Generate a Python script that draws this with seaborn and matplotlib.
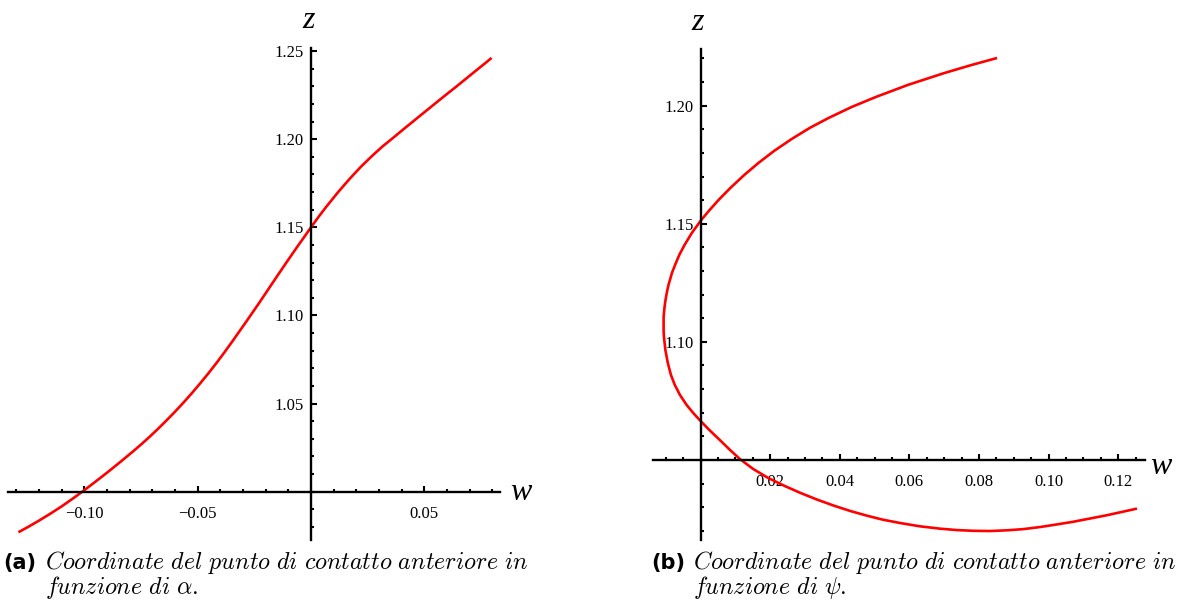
import matplotlib
matplotlib.use("Agg")
import matplotlib.pyplot as plt
from matplotlib.ticker import FixedLocator, MultipleLocator
import pandas as pd
import seaborn as sns

# Front contact point (w, z) as the steering angle alpha varies
w_alpha = [-0.1291, -0.1243, -0.1195, -0.1148, -0.1100, -0.1052, -0.1004, -0.0953,
           -0.0901, -0.0843, -0.0784, -0.0747, -0.0710, -0.0674, -0.0637, -0.0600,
           -0.0563, -0.0527, -0.0490, -0.0453, -0.0416, -0.0380, -0.0343, -0.0284,
           -0.0225, -0.0188, -0.0151, -0.0107, -0.0063, -0.0031, 0.0000, 0.0035,
           0.0069, 0.0120, 0.0172, 0.0220, 0.0268, 0.0315, 0.0363, 0.0407,
           0.0451, 0.0495, 0.0540, 0.0592, 0.0643, 0.0687, 0.0731, 0.0764, 0.0797]
z_alpha = [0.9770, 0.9804, 0.9840, 0.9877, 0.9917, 0.9960, 1.0005, 1.0055,
           1.0107, 1.0167, 1.0230, 1.0271, 1.0314, 1.0358, 1.0405, 1.0454,
           1.0505, 1.0557, 1.0613, 1.0671, 1.0732, 1.0794, 1.0860, 1.0968,
           1.1078, 1.1149, 1.1220, 1.1303, 1.1385, 1.1443, 1.1500, 1.1562,
           1.1619, 1.1700, 1.1777, 1.1843, 1.1903, 1.1958, 1.2008, 1.2055,
           1.2101, 1.2147, 1.2194, 1.2248, 1.2300, 1.2346, 1.2392, 1.2426, 1.2461]

# Front contact point (w, z) as psi varies
w_psi = [0.0852, 0.0778, 0.0700, 0.0596, 0.0504, 0.0435, 0.0368, 0.0314, 0.0262, 0.0211,
         0.0166, 0.0126, 0.0086, 0.0052, 0.0026, 0.0002, -0.0025, -0.0046, -0.0061, -0.0073,
         -0.0082, -0.0092, -0.0097, -0.0101, -0.0104, -0.0106, -0.0106, -0.0106, -0.0105, -0.0101,
         -0.0094, -0.0085, -0.0074, -0.0059, -0.0040, -0.0021, 0.0000, 0.0028, 0.0055, 0.0085,
         0.0113, 0.0151, 0.0194, 0.0243, 0.0286, 0.0335, 0.0382, 0.0430, 0.0478, 0.0524,
         0.0573, 0.0630, 0.0688, 0.0737, 0.0783, 0.0832, 0.0880, 0.0927, 0.0976, 0.1024,
         0.1070, 0.1119, 0.1168, 0.1211, 0.1254]
z_psi = [1.2202, 1.2172, 1.2138, 1.2088, 1.2037, 1.1995, 1.1948, 1.1906, 1.1859, 1.1808,
         1.1757, 1.1707, 1.1652, 1.1601, 1.1558, 1.1516, 1.1461, 1.1410, 1.1368, 1.1326,
         1.1292, 1.1241, 1.1207, 1.1173, 1.1139, 1.1105, 1.1072, 1.1046, 1.1021, 1.0966,
         1.0911, 1.0860, 1.0818, 1.0775, 1.0733, 1.0699, 1.0665, 1.0623, 1.0585, 1.0542,
         1.0504, 1.0462, 1.0424, 1.0389, 1.0361, 1.0332, 1.0307, 1.0284, 1.0264, 1.0247,
         1.0233, 1.0219, 1.0209, 1.0203, 1.0200, 1.0199, 1.0202, 1.0207, 1.0216, 1.0227,
         1.0238, 1.0252, 1.0266, 1.0280, 1.0294]

xticks_alpha = [-0.10, -0.05, 0.05]
yticks_alpha = [1.05, 1.10, 1.15, 1.20, 1.25]
xticks_psi = [0.02, 0.04, 0.06, 0.08, 0.10, 0.12]
yticks_psi = [1.10, 1.15, 1.20]

caption_tags = ["(a)", "(b)"]
caption_line1 = "Coordinate del punto di contatto anteriore in"
caption_vars = [r"\alpha", r"\psi"]

W, H, DPI = 1183, 608, 100
fig = plt.figure(figsize=(W / DPI, H / DPI), dpi=DPI)
fig.patch.set_facecolor("white")

SERIF = "Liberation Serif"


def px(x0, y0, x1, y1):
    """Axes rectangle from pixel corners (top-left origin)."""
    return [x0 / W, 1 - y1 / H, (x1 - x0) / W, (y1 - y0) / H]


def fmt(v):
    return f"{v:.2f}".replace("-", "\u2212")


def style_axes(ax, xlim, ylim, origin, xt, yt, xminor, yminor):
    ax.set_xlim(*xlim)
    ax.set_ylim(*ylim)
    ax.set_facecolor("none")
    for s in ("top", "right"):
        ax.spines[s].set_visible(False)
    ax.spines["left"].set_position(("data", origin[0]))
    ax.spines["bottom"].set_position(("data", origin[1]))
    for s in ("left", "bottom"):
        ax.spines[s].set_linewidth(1.7)
        ax.spines[s].set_color("black")
    ax.xaxis.set_major_locator(FixedLocator(xt))
    ax.yaxis.set_major_locator(FixedLocator(yt))
    ax.set_xticklabels([fmt(v) for v in xt])
    ax.set_yticklabels([fmt(v) for v in yt])
    ax.xaxis.set_minor_locator(MultipleLocator(xminor))
    ax.yaxis.set_minor_locator(MultipleLocator(yminor))
    ax.tick_params(which="both", direction="in", color="black", width=1.5)
    ax.tick_params(which="major", length=4.3)
    ax.tick_params(which="minor", length=2.3)
    ax.tick_params(axis="x", which="major", pad=10)
    ax.tick_params(axis="y", which="major", pad=5)
    for lab in ax.get_xticklabels() + ax.get_yticklabels():
        lab.set_fontfamily(SERIF)
        lab.set_fontsize(12)
    ax.set_xlabel("")
    ax.set_ylabel("")


red = (1.0, 0.0, 0.0)

# Panel (a)
ax1 = fig.add_axes(px(8, 48, 500, 540))
df_a = pd.DataFrame({"w": w_alpha, "z": z_alpha})
sns.lineplot(data=df_a, x="w", y="z", sort=False, estimator=None, color=red,
             linewidth=1.9, ax=ax1)
style_axes(ax1, (-0.1337, 0.0834), (0.9726, 1.2517), (0.0, 1.0),
           xticks_alpha, yticks_alpha, 0.01, 0.01)

# Panel (b)
ax2 = fig.add_axes(px(653, 49, 1145, 540))
df_b = pd.DataFrame({"w": w_psi, "z": z_psi})
sns.lineplot(data=df_b, x="w", y="z", sort=False, estimator=None, color=red,
             linewidth=1.9, ax=ax2)
style_axes(ax2, (-0.01365, 0.1277), (1.0161, 1.2240), (0.0, 1.05),
           xticks_psi, yticks_psi, 0.005, 0.01)

for ax in (ax1, ax2):
    for line in ax.get_lines():
        line.set_solid_joinstyle("round")
        line.set_solid_capstyle("butt")

# Axis names
for (zx, zy), (wx, wy) in [((309, 21), (521, 492)), ((698, 23), (1161, 466))]:
    fig.text(zx / W, 1 - zy / H, "z", fontfamily=SERIF, fontstyle="italic",
             fontsize=23, ha="center", va="center")
    fig.text(wx / W, 1 - wy / H, "w", fontfamily=SERIF, fontstyle="italic",
             fontsize=23, ha="center", va="center")

# Sub-captions
plt.rcParams["mathtext.fontset"] = "cm"
line1 = r"$\mathit{" + caption_line1.replace(" ", r"\ ") + r"}$"
for tag, var, x_tag, x_txt in zip(caption_tags, caption_vars, [3, 651], [45, 693]):
    fig.text(x_tag / W, 1 - 569 / H, tag, fontfamily="DejaVu Sans",
             fontweight="bold", fontsize=15, ha="left", va="baseline")
    fig.text(x_txt / W, 1 - 569 / H, line1, fontsize=17.3, ha="left", va="baseline")
    fig.text(x_txt / W, 1 - 594 / H, r"$\mathit{funzione\ di}\ " + var + r".$",
             fontsize=17.3, ha="left", va="baseline")

fig.savefig("out.png", dpi=DPI, facecolor="white")
